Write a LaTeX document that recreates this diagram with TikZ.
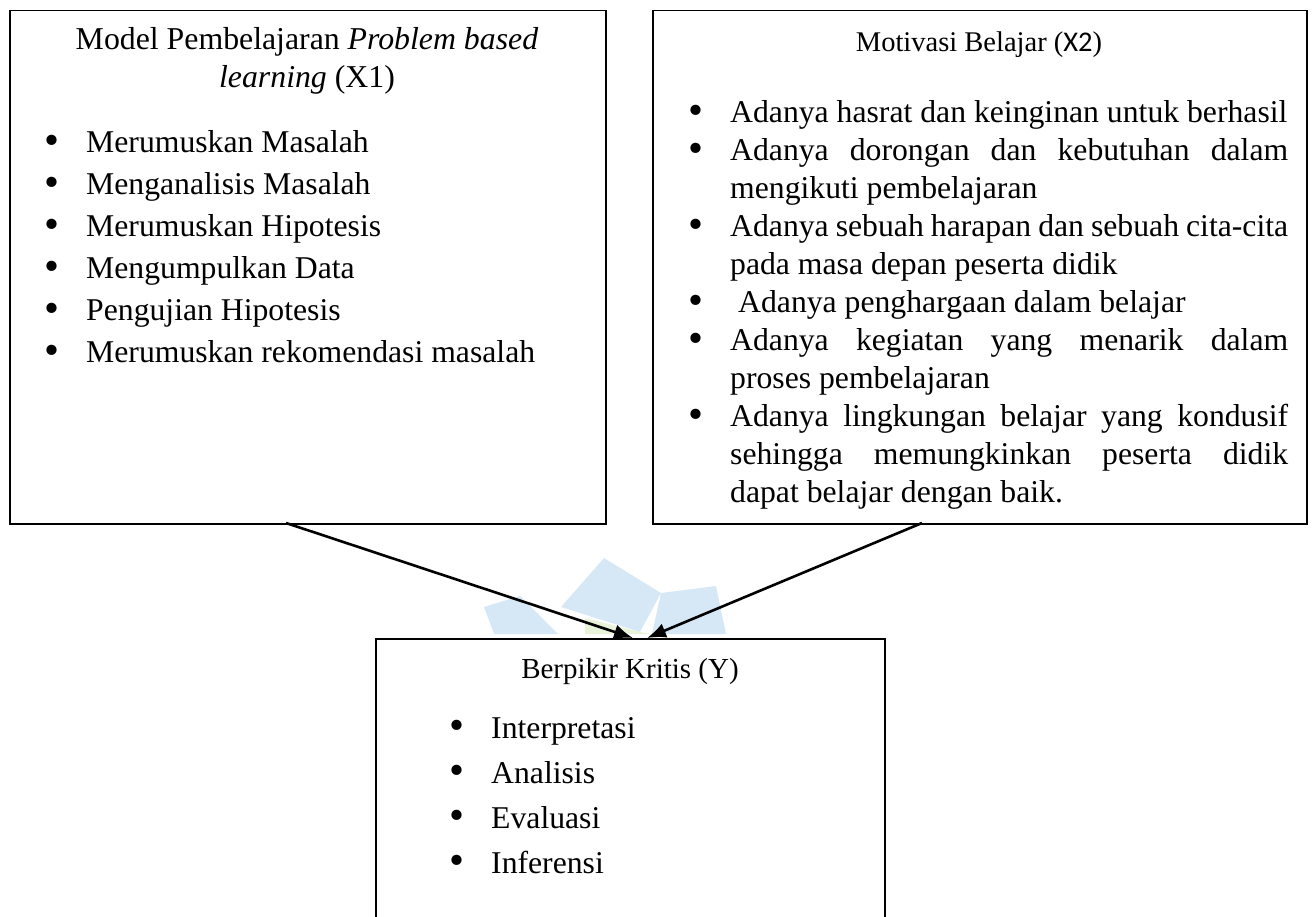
\documentclass[tikz,border=0pt]{standalone}
\usepackage{fontspec}
\usepackage{graphicx}
\setmainfont{Liberation Serif}
\newfontfamily\calibri{Carlito}
\usetikzlibrary{arrows.meta,positioning}
\definecolor{wmblue}{RGB}{214,232,246}
\definecolor{wmgreen}{RGB}{232,243,218}
\newcommand{\bul}{\makebox[42pt][l]{\smash{\raisebox{-1.5pt}{\scalebox{1.35}{\textbullet}}}}}
\newcommand{\cont}{\hspace*{42pt}}
\newcommand{\jline}[1]{\makebox[558pt][s]{\spaceskip=0pt\xspaceskip=0pt\relax #1}}

\begin{document}
\begin{tikzpicture}[x=1pt,y=-1pt,
    box/.style={draw,line width=1.5pt,rectangle,anchor=north west,inner sep=0pt},
    head/.style={anchor=base,align=flush center,inner sep=0pt,text width=#1},
    items/.style={anchor=base west,align=flush left,inner sep=0pt,text width=650pt},
    arr/.style={-{Latex[length=19pt,width=15pt]},line width=2.6pt}]
  \useasboundingbox (0,0) rectangle (1314,917);
  % watermark behind the arrows
  \fill[wmblue] (604,558) -- (661,593) -- (640,632) -- (561,607) -- cycle;
  \fill[wmblue] (661,593) -- (716,586) -- (726,634) -- (652,634) -- cycle;
  \fill[wmblue] (484,607) -- (520,596) -- (558,634) -- (494,634) -- cycle;
  \fill[wmgreen] (585,618) -- (640,632) -- (652,634) -- (585,634) -- cycle;
  % boxes
  \node[box,minimum width=596pt,minimum height=513pt] (x1) at (9,10) {};
  \node[box,minimum width=654pt,minimum height=513pt] (x2) at (652,10) {};
  \node[box,fill=white,minimum width=509pt,minimum height=300pt] (y) at (375,638) {};
  % texts
  \node[head=580pt,font=\fontsize{31.8}{38}\selectfont] (x1head) at (307,50)
    {Model Pembelajaran \textit{Problem based}\\ \textit{learning} (X1)};
  \node[items,font=\fontsize{31.7}{42}\selectfont] (x1list) at (44,153) {%
    \bul Merumuskan Masalah\\
    \bul Menganalisis Masalah\\
    \bul Merumuskan Hipotesis\\
    \bul Mengumpulkan Data\\
    \bul Pengujian Hipotesis\\
    \bul Merumuskan rekomendasi masalah};
  \node[head=600pt,font=\fontsize{28.5}{38}\selectfont] (x2head) at (979,52)
    {Motivasi Belajar ({\calibri X2})};
  \node[items,font=\fontsize{31.7}{38}\selectfont] (x2list) at (688,123) {%
    \bul Adanya hasrat dan keinginan untuk berhasil\\
    \bul\jline{Adanya dorongan dan kebutuhan dalam}\\
    \cont mengikuti pembelajaran\\
    \bul\jline{Adanya sebuah harapan dan sebuah cita-cita}\\
    \cont pada masa depan peserta didik\\
    \bul\hspace*{8pt}Adanya penghargaan dalam belajar\\
    \bul\jline{Adanya kegiatan yang menarik dalam}\\
    \cont proses pembelajaran\\
    \bul\jline{Adanya lingkungan belajar yang kondusif}\\
    \cont\jline{sehingga memungkinkan peserta didik}\\
    \cont dapat belajar dengan baik.};
  \node[head=500pt,font=\fontsize{29}{38}\selectfont] (yhead) at (630,678)
    {Berpikir Kritis (Y)};
  \node[items,font=\fontsize{31.7}{45}\selectfont] (ylist) at (449,738) {%
    \bul Interpretasi\\
    \bul Analisis\\
    \bul Evaluasi\\
    \bul Inferensi};
  % connectors
  \coordinate (x1out) at (286,523);
  \coordinate (x2out) at (922,523);
  \coordinate (yin1) at (633,638);
  \coordinate (yin2) at (647,638);
  \draw[arr] (x1out) -- (yin1);
  \draw[arr] (x2out) -- (yin2);
\end{tikzpicture}
\end{document}
